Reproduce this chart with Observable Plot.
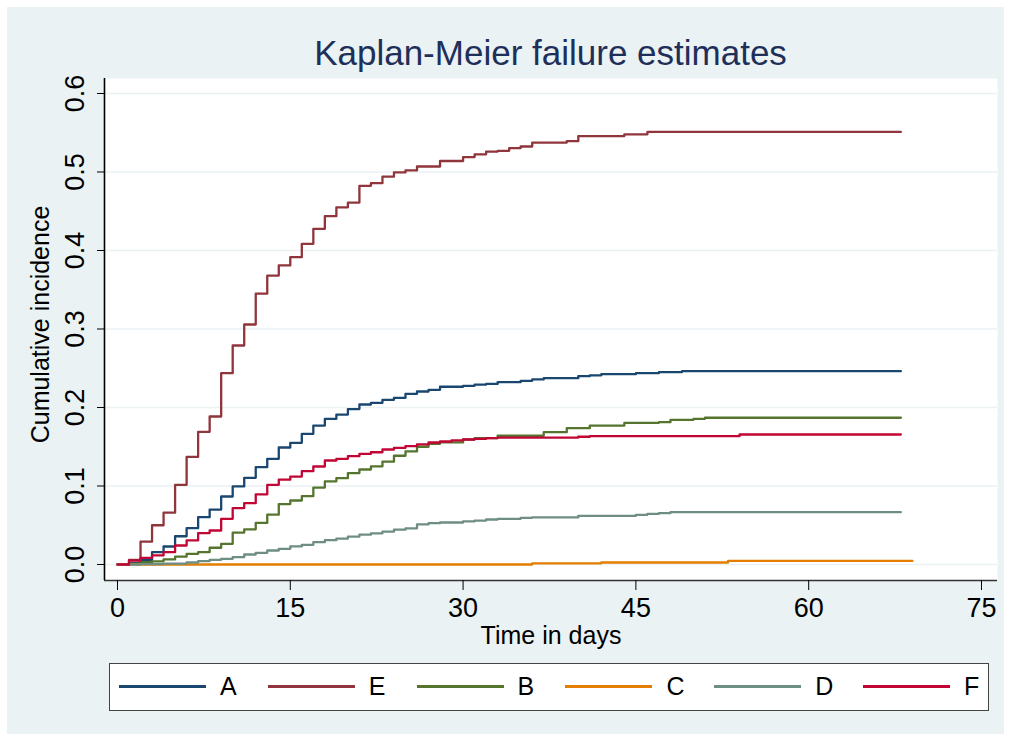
<!DOCTYPE html>
<html><head><meta charset="utf-8">
<script src="https://cdn.jsdelivr.net/npm/d3@7"></script>
<script src="https://cdn.jsdelivr.net/npm/@observablehq/plot@0.6"></script>
<style>
body{margin:0;background:#fff;font-family:"Liberation Sans",Arial,sans-serif;}
#bg{position:absolute;left:7px;top:7px;width:997px;height:727px;background:#eaf2f3;}
#title{position:absolute;left:104px;width:893px;top:35px;line-height:35px;text-align:center;font-size:35px;color:#1e2f5a;white-space:nowrap;}
#chart{position:absolute;left:0;top:60px;}
#legend{position:absolute;left:109px;top:663px;width:880px;height:48px;box-sizing:border-box;border:1.5px solid #444;background:#fff;}
.entry{position:absolute;top:0;height:45px;display:flex;align-items:center;}
.swatch{display:inline-block;width:87px;height:2.5px;}
.lab{font-size:25px;margin-left:14px;color:#000;}
</style></head><body>
<div id="bg"></div>
<div id="title">Kaplan-Meier failure estimates</div>
<div id="chart"></div>
<div id="legend"></div>
<script>
// ---- data ----
const groups = ["A", "E", "B", "C", "D", "F"];
const colors = ["#1a476f", "#90353b", "#55752f", "#e37e00", "#6e8e84", "#c10534"];

const timesA = [0,1,2,3,4,5,6,7,8,9,10,11,12,13,14,15,16,17,18,19,20,21,22,23,24,25,26,27,28,30,31,32,33,35,36,37,40,41,42,45,47,49,68];
const survA  = [0,0.002,0.006,0.0157,0.0229,0.036,0.0463,0.0603,0.070,0.0866,0.0994,0.1104,0.124,0.1346,0.149,0.155,0.1665,0.177,0.1856,0.191,0.198,0.2038,0.206,0.2098,0.2123,0.2174,0.2204,0.2225,0.2264,0.2276,0.229,0.230,0.2323,0.234,0.2357,0.2373,0.2399,0.241,0.2424,0.2437,0.245,0.2462,0.2462];

const timesE = [0,1,2,3,4,5,6,7,8,9,10,11,12,13,14,15,16,17,18,19,20,21,22,23,24,25,26,28,30,31,32,33,34,35,36,39,40,44,46,68];
const survE  = [0,0.006,0.029,0.050,0.066,0.1015,0.137,0.169,0.1885,0.2437,0.279,0.3057,0.345,0.368,0.381,0.3915,0.4085,0.4276,0.4437,0.455,0.461,0.4824,0.4857,0.494,0.4995,0.502,0.507,0.514,0.519,0.5225,0.526,0.527,0.5305,0.5325,0.5375,0.5392,0.5458,0.548,0.551,0.551];

const timesB = [0,1,2,3,4,5,6,7,8,9,10,11,12,13,14,15,16,17,18,19,20,21,22,23,24,25,26,27,28,30,31,33,37,39,41,44,47,48,50,51,68];
const survB  = [0,0.001,0.003,0.004,0.0065,0.010,0.0136,0.0157,0.0213,0.0263,0.0406,0.0448,0.053,0.0635,0.077,0.0815,0.087,0.098,0.106,0.110,0.1165,0.121,0.125,0.131,0.1385,0.144,0.150,0.1537,0.1555,0.1592,0.161,0.164,0.1686,0.1737,0.177,0.1805,0.1813,0.1843,0.1856,0.1869,0.1869];

const timesC = [0,36,42,53,69];
const survC  = [0,0.0015,0.0025,0.0045,0.0045];

const timesD = [0,2,4,6,7,8,9,10,11,12,13,14,15,16,17,18,19,20,21,22,23,24,25,26,27,28,30,31,32,33,35,36,40,45,46,47,48,68];
const survD  = [0,0.0005,0.001,0.0025,0.0042,0.006,0.0072,0.0093,0.0127,0.0149,0.0178,0.020,0.023,0.025,0.0284,0.031,0.033,0.0355,0.038,0.0397,0.0418,0.0444,0.0461,0.051,0.0526,0.0535,0.0548,0.056,0.0573,0.0582,0.0595,0.060,0.062,0.0633,0.0646,0.0654,0.0667,0.0667];

const timesF = [0,1,2,3,4,5,6,7,8,9,10,11,12,13,14,15,16,17,18,19,20,21,22,23,24,25,26,27,28,29,30,31,32,33,40,41,54,68];
const survF  = [0,0.005,0.0085,0.0115,0.0157,0.0242,0.0306,0.040,0.0433,0.0582,0.0718,0.0781,0.0892,0.1015,0.108,0.112,0.1189,0.1248,0.1325,0.1346,0.138,0.141,0.143,0.1465,0.1486,0.1507,0.1529,0.1554,0.1567,0.158,0.1592,0.160,0.161,0.1615,0.1627,0.1635,0.1656,0.1656];

const xTicks = [0, 15, 30, 45, 60, 75];
const yTicks = [0, 0.1, 0.2, 0.3, 0.4, 0.5, 0.6];
const titleText = "Kaplan-Meier failure estimates";
const xLabel = "Time in days";
const yLabel = "Cumulative incidence";

// ---- build table ----
const series = {A:[timesA,survA], E:[timesE,survE], B:[timesB,survB], C:[timesC,survC], D:[timesD,survD], F:[timesF,survF]};
const rows = [];
for (const g of groups) {
  const [ts, ss] = series[g];
  ts.forEach((t, i) => rows.push({g, t, s: ss[i]}));
}

const xDomain = [-1.128, 76.39];
const yDomain = [-0.0204, 0.6191];

const chart = Plot.plot({
  width: 1011,
  height: 600,
  marginLeft: 104,
  marginRight: 14,
  marginTop: 18,
  marginBottom: 80,
  x: {domain: xDomain},
  y: {domain: yDomain},
  color: {domain: groups, range: colors},
  style: {background: "transparent", fontFamily: "Liberation Sans, Arial, sans-serif", color: "#000"},
  marks: [
    Plot.frame({fill: "white", stroke: "none"}),
    Plot.gridY(yTicks, {stroke: "#eaf2f3", strokeOpacity: 1, strokeWidth: 1.6}),
    Plot.line(rows, {x: "t", y: "s", z: "g", stroke: "g", curve: "step-after", strokeWidth: 2.3}),
    Plot.ruleY([yDomain[0]], {stroke: "#333", strokeWidth: 1.5}),
    Plot.ruleX([xDomain[0]], {stroke: "#000", strokeWidth: 1.6}),
    Plot.axisX({ticks: xTicks, tickSize: 10, tickPadding: 7, fontSize: 27, label: null, tickFormat: d => String(d)}),
    Plot.axisY({ticks: yTicks, tickSize: 7, tickRotate: -90, tickPadding: 14, fontSize: 27, label: null, tickFormat: d3.format(".1f")}),
    Plot.text([xLabel], {frameAnchor: "bottom", lineAnchor: "middle", textAnchor: "middle", dy: 55, fontSize: 25, text: d => d}),
    Plot.text([yLabel], {frameAnchor: "left", lineAnchor: "middle", textAnchor: "middle", rotate: -90, dx: -64, dy: -5, fontSize: 25, text: d => d})
  ]
});
document.getElementById("chart").appendChild(chart);
document.getElementById("title").textContent = titleText;

// ---- legend ----
const legend = d3.select("#legend");
groups.forEach((g, i) => {
  const e = legend.append("div").attr("class", "entry").style("left", (9 + i * 148.8) + "px");
  e.append("span").attr("class", "swatch").style("background", colors[i]);
  e.append("span").attr("class", "lab").text(g);
});
</script>
</body></html>
